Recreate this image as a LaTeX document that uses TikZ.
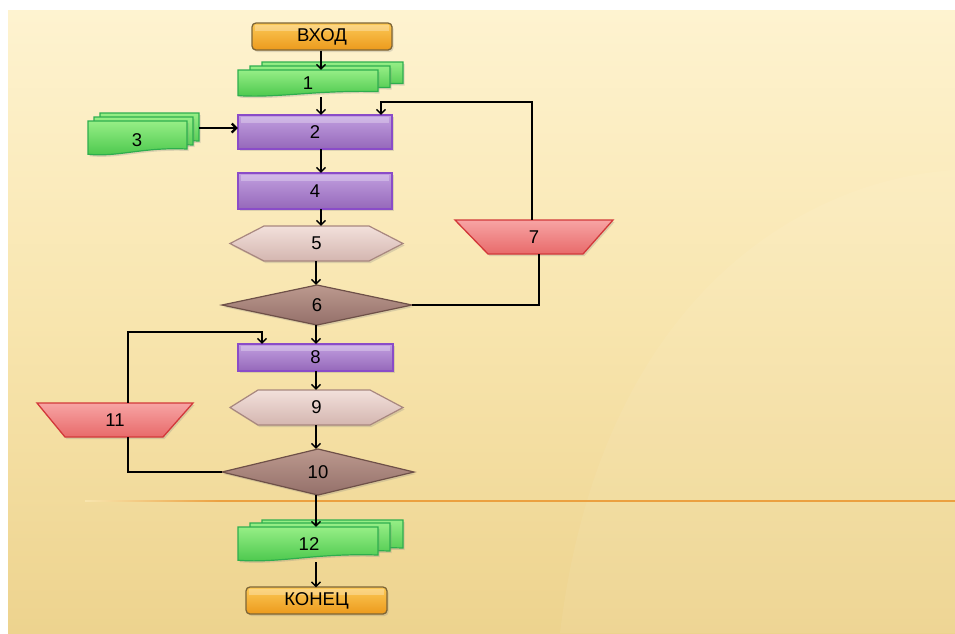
\documentclass[tikz,border=0pt]{standalone}
\usepackage{fontspec}
\setmainfont{Liberation Sans}
\usetikzlibrary{arrows.meta,shadows,calc}
\definecolor{bgtop}{HTML}{FEF3D0}
\definecolor{bgmid}{HTML}{F8E5AE}
\definecolor{bgbot}{HTML}{EDD38E}
\definecolor{orT}{HTML}{FCC957}
\definecolor{orB}{HTML}{EC9A1C}
\definecolor{orD}{HTML}{7D6536}
\definecolor{puT}{HTML}{C2A0E0}
\definecolor{puB}{HTML}{9568BA}
\definecolor{puD}{HTML}{8A4CC8}
\definecolor{grT}{HTML}{96EE86}
\definecolor{grB}{HTML}{48C64A}
\definecolor{grD}{HTML}{2EAE4E}
\definecolor{hxT}{HTML}{F2E0DB}
\definecolor{hxB}{HTML}{D4B6B0}
\definecolor{hxD}{HTML}{A8877F}
\definecolor{dmT}{HTML}{BC998E}
\definecolor{dmB}{HTML}{94706A}
\definecolor{dmD}{HTML}{6E5048}
\definecolor{tpT}{HTML}{F7A4A4}
\definecolor{tpB}{HTML}{E86A6A}
\definecolor{tpD}{HTML}{D2383A}
\definecolor{hline}{HTML}{EBA040}
\tikzset{
  shad/.style={drop shadow={shadow xshift=1.5pt,shadow yshift=-2pt,opacity=0.25}},
  orng/.style={shad,top color=orT,bottom color=orB,draw=orD,line width=1.3pt,rounded corners=4pt},
  purp/.style={shad,top color=puT,bottom color=puB,draw=puD,line width=1.3pt},
  grn/.style={shad,top color=grT,bottom color=grB,draw=grD,line width=1.2pt},
  hexa/.style={shad,top color=hxT,bottom color=hxB,draw=hxD,line width=1.2pt},
  diam/.style={shad,top color=dmT,bottom color=dmB,draw=dmD,line width=1.2pt},
  trap/.style={shad,top color=tpT,bottom color=tpB,draw=tpD,line width=1.3pt},
  txt/.style={font=\fontsize{18.5}{21}\selectfont,inner sep=0pt,text=black},
  arr/.style={draw=black,line width=1.3pt,-{Straight Barb[length=4.5pt,width=9pt]}},
  ln/.style={draw=black,line width=1.1pt},
}
\newcommand\mydoc[4]{%
  \path[grn] ({#1},{#2}) -- ({#1+#3},{#2}) -- ({#1+#3},{#2+0.8*#4})
    .. controls ({#1+0.55*#3},{#2+0.74*#4}) and ({#1+0.3*#3},{#2+1.04*#4}) .. ({#1},{#2+0.95*#4}) -- cycle;}
\newcommand\myhl[4]{\fill[white,opacity=0.28] ({#1+3},{#2+2}) rectangle ({#3-3},{#2+#4});}
\begin{document}
\begin{tikzpicture}[x=1pt,y=-1pt]
\useasboundingbox (0,0) rectangle (955,633);
\fill[white] (0,0) rectangle (955,633);
\shade[top color=bgtop,bottom color=bgbot,middle color=bgmid] (8,10) rectangle (955,633);
\fill[white,opacity=0.06] (560,633) .. controls (600,300) and (800,180) .. (955,170) -- (955,633) -- cycle;
\shade[left color=bgmid,right color=hline] (85,500.3) rectangle (220,501.5);
\fill[hline] (220,500.3) rectangle (955,501.5);

% shapes
\path[orng] (252,23) rectangle (392,50);
\myhl{252}{23}{392}{8}
\mydoc{262}{62}{141}{27}
\mydoc{250}{66}{140}{27}
\mydoc{238}{70}{140}{27}
\mydoc{100}{113}{99}{35}
\mydoc{94}{117}{99}{35}
\mydoc{88}{121}{99}{35}
\path[purp] (238,115) rectangle (392,149);
\myhl{238}{115}{392}{8}
\path[purp] (238,173) rectangle (392,209);
\myhl{238}{173}{392}{8}
\path[hexa] (230,243.5) -- (264,226) -- (369,226) -- (403,243.5) -- (369,261) -- (264,261) -- cycle;
\path[diam] (222,305) -- (317,285) -- (412,305) -- (317,325) -- cycle;
\path[trap] (455,220) -- (613,220) -- (583,254) -- (488,254) -- cycle;
\path[purp] (238,344) rectangle (393,371);
\myhl{238}{344}{393}{7}
\path[hexa] (230,407.5) -- (258,390) -- (370,390) -- (403,407.5) -- (370,425) -- (258,425) -- cycle;
\path[trap] (37,403) -- (193,403) -- (163,437) -- (65,437) -- cycle;
\path[diam] (222,472) -- (318,449) -- (414,472) -- (318,495) -- cycle;
\mydoc{262}{520}{141}{35}
\mydoc{250}{523}{140}{35}
\mydoc{238}{527}{140}{35}
\path[orng] (246,587) rectangle (387,614);
\myhl{246}{587}{387}{8}

% nodes
\node[txt,minimum width=140pt,minimum height=27pt] (vhod) at (322,37) {ВХОД};
\node[txt,minimum width=140pt,minimum height=27pt] (d1) at (308,83.5) {1};
\node[txt] (d3) at (137,140) {3};
\node[minimum width=111pt,minimum height=43pt,inner sep=0pt] (d3s) at (143.5,134.5) {};
\node[txt,minimum width=154pt,minimum height=34pt] (n2) at (315,132) {2};
\node[txt,minimum width=154pt,minimum height=36pt] (n4) at (315,191) {4};
\node[txt,minimum width=173pt,minimum height=35pt] (n5) at (316.5,243.5) {5};
\node[txt,minimum width=190pt,minimum height=40pt] (n6) at (317,305) {6};
\node[txt,minimum width=158pt,minimum height=34pt] (n7) at (534,237) {7};
\node[txt,minimum width=155pt,minimum height=27pt] (n8) at (315.5,357.5) {8};
\node[txt,minimum width=173pt,minimum height=35pt] (n9) at (316.5,407.5) {9};
\node[txt,minimum width=192pt,minimum height=46pt] (n10) at (318,472) {10};
\node[txt,minimum width=156pt,minimum height=34pt] (n11) at (115,420) {11};
\node[txt,minimum width=140pt,minimum height=35pt] (d12) at (309,544.5) {12};
\node[txt,minimum width=141pt,minimum height=27pt] (konec) at (316.5,601) {КОНЕЦ};

% helper coordinates
\coordinate (cA) at (321,0);
\coordinate (cB) at (316,0);
\coordinate (c7t) at (532,102);
\coordinate (c7b) at (539,0);
\coordinate (c2r) at (381,0);
\coordinate (c11) at (128,332);
\coordinate (c8l) at (262,0);

% connectors
\draw[arr] (vhod.south -| cA) -- (d1.north -| cA);
\draw[arr] (d1.south -| cA) -- (n2.north -| cA);
\draw[arr,line width=2.2pt] ([yshift=6.5pt]d3s.east) -- ([yshift=6.5pt]d3s.east -| n2.west);
\draw[arr] (n2.south -| cA) -- (n4.north -| cA);
\draw[arr] (n4.south -| cA) -- (n5.north -| cA);
\draw[arr] (n5.south -| cB) -- (n6.north -| cB);
\draw[arr] (n6.south -| cB) -- (n8.north -| cB);
\draw[ln] (n6.east) -| (n7.south -| c7b);
\draw[arr] (n7.north -| c7t) -- (c7t) -| (n2.north -| c2r);
\draw[arr] (n8.south -| cB) -- (n9.north -| cB);
\draw[arr] (n9.south -| cB) -- (n10.north -| cB);
\draw[ln] (n10.west) -| (n11.south -| c11);
\draw[arr] (n11.north -| c11) -- (c11) -| (n8.north -| c8l);
\draw[arr] (n10.south -| cB) -- (d12.north -| cB);
\draw[arr] (d12.south -| cB) -- (konec.north -| cB);
\end{tikzpicture}
\end{document}
